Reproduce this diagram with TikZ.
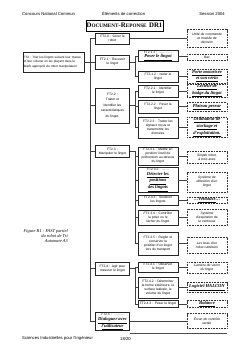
\documentclass[tikz,border=0pt]{standalone}
\usepackage{fontspec}
\setmainfont{Liberation Sans}
\newfontfamily\handf{Liberation Serif}
\usetikzlibrary{shadows}
\newcommand\ftxt{\fontsize{3.3}{4.1}\selectfont}
\newcommand\hw[1]{\underline{#1}}
\newcommand\hwf{\handf\itshape\bfseries\fontsize{4.6}{5.1}\selectfont}
\tikzset{
  fnbase/.style={draw=black!85, line width=0.75pt, fill=white, align=center, inner sep=0.5pt, font=\ftxt},
  lv1/.style={fnbase, minimum width=34pt, text width=33pt},
  lv2/.style={fnbase, minimum width=40pt, text width=39pt},
  sol/.style={draw=black!80, line width=0.5pt, dash pattern=on 1pt off 0.6pt, fill=white, align=center, inner sep=0.5pt, minimum width=40pt, text width=39pt, font=\ftxt\itshape},
  solh/.style={sol, line width=0.8pt},
  conn/.style={draw=black!75, line width=0.6pt},
  hdr/.style={inner sep=0pt, font=\fontsize{4.2}{5}\selectfont}
}
\begin{document}
\begin{tikzpicture}[x=1pt,y=-1pt]
\useasboundingbox (0,0) rectangle (248,351);
\fill[white] (0,0) rectangle (248,351);

% header
\node[hdr, anchor=west] (h1) at (22,14) {Concours National Commun};
\node[hdr, anchor=west] (h2) at (102,14) {Éléments de correction};
\node[hdr, anchor=east] (h3) at (225,14) {Session 2004};

% title
\node[draw, line width=0.6pt, fill=white, minimum width=77pt, minimum height=11pt, inner sep=0.5pt,
      font=\handf\bfseries, drop shadow={shadow xshift=0.8pt, shadow yshift=-0.8pt, fill=black!80, opacity=1}] (title) at (124.5,25.5)
  {{\fontsize{6.8}{7}\selectfont D}{\fontsize{5.2}{6}\selectfont OCUMENT}{\fontsize{6.8}{7}\selectfont -R}{\fontsize{5.2}{6}\selectfont EPONSE} {\fontsize{6.8}{7}\selectfont DR1}};

% bus coordinates
\coordinate (mb) at (90,0);
\coordinate (sb) at (135,0);

% FT2
\node[fnbase, align=left, minimum width=61pt, text width=60pt, minimum height=20pt, font=\fontsize{3.1}{4.2}\selectfont] (F2) at (53.5,62)
  {FT2 : Trier les lingots suivant leur masse\\ et leur volume en les plaçant dans le\\ dépôt approprié du robot manipulateur.};

% caption
\node[inner sep=0pt, anchor=north east, align=right, font=\handf\itshape\fontsize{4.4}{5}\selectfont] (cap) at (68,229)
  {Figure R1 : FAST partiel\\ du robot de Tri\\ Automate A3};

% level 1
\node[lv1, minimum height=11pt] (F20) at (112.5,38.5) {FT2.0 : Gérer le\\ robot};
\node[lv1, minimum height=14pt] (F21) at (112.5,62) {FT2.1 : Recevoir\\ le lingot};
\node[lv1, minimum height=35pt, font=\fontsize{3.3}{5.6}\selectfont] (F22) at (112.5,105.5) {FT2.2 :\\ Traiter et\\ identifier les\\ caractéristiques\\ du lingot.};
\node[lv1, minimum height=12pt] (F23) at (112.5,151.5) {FT2.3 :\\ Manipuler le lingot};
\node[lv1, minimum height=13pt] (F24) at (112.5,268.5) {FT2.4 : Agir pour\\ mesurer le lingot};
\node[lv1, minimum height=17pt] (F25) at (112.5,321.5) {FT2.5 : \dots\dots\dots\\ \hwf\hw{Dialoguer avec}\\ \hwf\hw{l'utilisateur}};

% level 2
\node[lv2, minimum height=11pt] (F211) at (158,56) {FT2.1.1 : \dots\dots\dots\dots\\ \hwf\hw{Poser le lingot}};
\node[lv2, minimum height=11pt] (F212) at (158,76.5) {FT2.1.2 : Isoler le\\ lingot};
\node[lv2, minimum height=12pt] (F221) at (158,91) {FT2.2.1 : Identifier\\ le lingot};
\node[lv2, minimum height=13pt] (F222) at (158,106.5) {FT2.2.2 : Peser le\\ lingot};
\node[lv2, minimum height=21pt] (F223) at (158,127.5) {FT2.2.3 : Traiter les\\ signaux reçus et\\ transmettre les\\ données};
\node[lv2, minimum height=18pt] (F231) at (158,156) {FT2.3.1 : Mettre en\\ position l'outil de\\ préhension au-dessus\\ du lingot};
\node[lv2, minimum height=20pt] (F232) at (158,180) {FT2.3.2 : \dots\dots\\ \hwf\hw{Détecter les}\\ \hwf\hw{positions}\\ \hwf\hw{des lingots}};
\node[lv2, minimum height=10pt] (F233) at (158,200) {FT2.3.3 : Soulever\\ les lingots};
\node[lv2, minimum height=15pt] (F234) at (158,217.5) {FT2.3.4 : Contrôler\\ la prise ou le\\ lâcher du lingot};
\node[lv2, minimum height=23pt] (F235) at (158,243.5) {FT2.3.5 : Régler et\\ conserver la\\ position d'un lingot\\ lors du transport};
\node[lv2, minimum height=10pt] (F241) at (158,267) {FT2.4.1 : Observer\\ le lingot};
\node[lv2, minimum height=21pt] (F242) at (158,287.5) {FT2.4.2 : Déterminer\\ la forme extérieure, la\\ surface latérale, le\\ volume du lingot};
\node[lv2, minimum height=7pt] (F243) at (158,304) {FT2.4.3 : Peser le lingot};

% solutions
\node[sol, minimum height=18pt] (S20) at (207,38.5) {Unité de commande\\ et module de\\ décision};
\node[sol, minimum height=6pt] (S211) at (207,57) {Bac};
\node[solh, minimum height=14pt] (S212) at (207,76) {\hwf\hw{Porte motorisée}\\ \hwf\hw{et son vérin}};
\node[solh, minimum height=12pt] (S221) at (207,91) {\hwf\hw{Lecteur de}\\ \hwf\hw{badge du lingot}};
\node[solh, minimum height=9pt] (S222) at (207,107) {\hwf\hw{Plateau peseur}};
\node[solh, minimum height=19pt] (S223) at (207,127.5) {\hwf\hw{Ordinateur de}\\ \hwf\hw{stockage et}\\ \hwf\hw{d'exploitation.}};
\node[sol, minimum height=12pt] (S231) at (207,157.5) {Simple robot,\\ à trois axes};
\node[sol, minimum height=20pt] (S232) at (207,182) {Système de\\ détection d'un\\ lingot};
\node[sol, minimum height=6pt] (S233) at (207,200) {\hwf\dots\hw{Ventouse}\dots};
\node[sol, minimum height=16pt] (S234) at (207,217) {Système\\ d'aspiration de\\ la ventouse};
\node[sol, minimum height=16pt] (S235) at (207,245) {Les bras d'un\\ robot cartésien};
\node[sol, minimum height=11pt] (S241) at (207,267.5) {Caméra de vision\\ du lingot};
\node[solh, minimum height=10pt] (S242) at (207,287.5) {\hwf\hw{Logiciel HALCON}};
\node[solh, minimum height=7pt] (S243) at (207,304) {\hwf\hw{Balance}};
\node[sol, minimum height=15pt] (S25) at (207,321) {Écran de contrôle\\ tactile};

% main bus
\draw[conn] (F20.west) -- (F20.west -| mb) -- (F25.west -| mb) -- (F25.west);
\foreach \n in {F21,F22,F23,F24} \draw[conn] (\n.west) -- (\n.west -| mb);
\draw[conn] (F2.east) -- (F2.east -| mb);
\draw[conn] (F20.east) -- (S20.west);
\draw[conn] (F25.east) -- (F25.east -| S25.west);

% FT2.1 group
\draw[conn] (F21.east) -- (F21.east -| sb);
\draw[conn] (F211.west) -- (F211.west -| sb) -- (F212.west -| sb) -- (F212.west);
% FT2.2 group
\draw[conn] (F22.east) -- (F22.east -| sb);
\draw[conn] (F221.west) -- (F221.west -| sb) -- (F223.west -| sb) -- (F223.west);
\draw[conn] (F222.west) -- (F222.west -| sb);
% FT2.3 group
\draw[conn] (F23.east) -- (F23.east -| sb) -- (F235.west -| sb) -- (F235.west);
\foreach \n in {F231,F232,F233,F234} \draw[conn] (\n.west) -- (\n.west -| sb);
% FT2.4 group
\draw[conn] (F24.east) -- (F24.east -| sb);
\draw[conn] (F241.west) -- (F241.west -| sb) -- (F243.west -| sb) -- (F243.west);
\draw[conn] (F242.west) -- (F242.west -| sb);

% child -> solution
\foreach \c/\s in {F211/S211,F212/S212,F221/S221,F222/S222,F223/S223,F231/S231,F232/S232,F233/S233,F234/S234,F235/S235,F241/S241,F242/S242,F243/S243}
  \draw[conn] (\c.east) -- (\c.east -| \s.west);

% footer
\coordinate (fl) at (130,333);
\coordinate (fr) at (227,333);
\draw[black!70, line width=0.5pt] (fl) -- (fr);
\node[hdr, anchor=west] (f1) at (22,338.5) {Sciences Industrielles pour l'Ingénieur};
\node[hdr, anchor=west] (f2) at (120,338.5) {18/20};
\end{tikzpicture}
\end{document}
